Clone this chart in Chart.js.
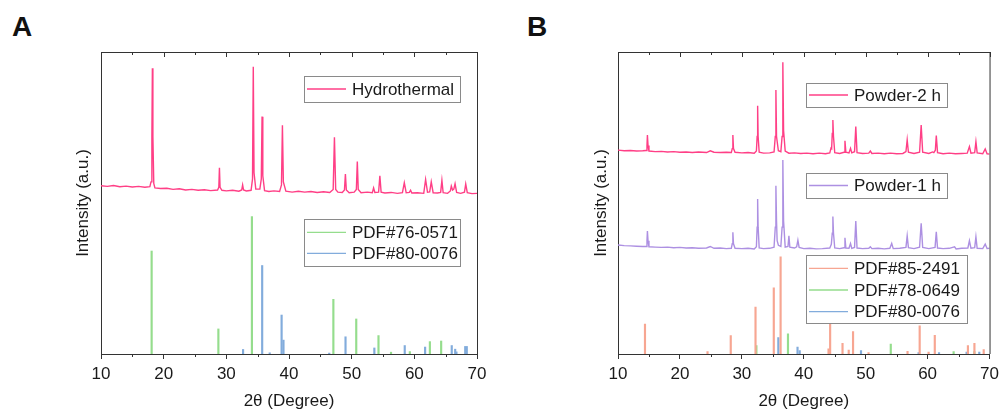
<!DOCTYPE html>
<html><head><meta charset="utf-8">
<script src="https://cdn.jsdelivr.net/npm/chart.js@4.4.1/dist/chart.umd.min.js"></script>
<style>
body{margin:0;background:#fff;width:1004px;height:410px;overflow:hidden;position:relative;font-family:"Liberation Sans",Arial,sans-serif}
.wrap{position:absolute;top:0;width:502px;height:410px}
.lab{position:absolute;font:bold 28px/1 "Liberation Sans",Arial,sans-serif;color:#111}
</style></head><body>
<div class="lab" style="left:12px;top:13px">A</div>
<div class="lab" style="left:527px;top:13px">B</div>
<div class="wrap" style="left:0"><canvas id="cA" width="502" height="410"></canvas></div>
<div class="wrap" style="left:502px"><canvas id="cB" width="502" height="410"></canvas></div>
<script>
// ---------- data ----------
const xMin = 10, xMax = 70;
const majorTicks = [10, 20, 30, 40, 50, 60, 70];
const minorTicks = [15, 25, 35, 45, 55, 65];
const xTitle = '2θ (Degree)';
const yTitle = 'Intensity (a.u.)';

// Panel A: measured pattern [2θ, intensity]
const hydrothermal = [
[10,55.7],[11,55.5],[12,55.8],[13,55.4],[14,55.6],[15,55.3],[16,55.5],[17,55.2],[17.8,55.4],
[17.98,57],[18.12,72],[18.2,94.6],[18.28,72],[18.42,56.5],[18.6,55.0],
[19.5,54.8],[20.5,54.9],[21.5,54.5],[22.5,54.7],[23.5,54.3],[24.5,54.5],[25.5,54.2],[26.5,54.4],[27.5,54.1],[28.6,54.3],
[28.8,55.2],[28.9,61.7],[29.0,55.2],[29.3,54.2],
[30,54.0],[31,54.2],[32,53.9],[32.45,54.3],[32.6,56.0],[32.75,54.3],[33.2,54.0],[33.95,54.2],
[34.18,58],[34.3,95.1],[34.42,60],[34.7,54.6],[35.35,54.6],[35.58,58],[35.7,78.6],[35.82,59],[36.1,54.1],
[36.8,53.8],[37.6,54.0],[38.5,53.8],[38.8,56],[38.95,75.7],[39.1,57],[39.5,53.9],
[40.5,53.6],[41.5,53.9],[42.5,53.6],[43.5,53.8],[44.5,53.5],[45.5,53.7],[46.5,53.5],[47.05,54.5],[47.25,71.8],[47.45,54.5],[47.8,53.6],
[48.5,53.5],[48.85,54.3],[49.0,59.6],[49.15,54.3],[49.6,53.4],[50.4,53.6],[50.75,54.5],[50.9,63.7],[51.05,54.5],[51.5,53.4],
[52.5,53.6],[53.3,53.4],[53.5,55.0],[53.7,53.5],[54.3,53.6],[54.5,59.0],[54.7,53.6],[55.3,53.3],
[56.3,53.5],[57.3,53.2],[58.1,53.4],[58.4,56.7],[58.7,53.4],[59.2,53.5],[59.4,54.2],[59.6,53.3],
[60.5,53.4],[61.5,53.2],[61.8,57.8],[62.1,53.6],[62.45,53.7],[62.7,57.0],[63.0,53.4],[63.7,53.3],[64.2,53.5],[64.4,57.5],[64.6,53.4],
[65.3,53.2],[65.75,54.0],[65.9,55.6],[66.1,54.3],[66.3,54.6],[66.5,56.4],[66.75,53.5],[67.4,53.2],[68.0,53.6],[68.2,56.3],[68.45,53.4],[69.2,53.1],[70,53.2]
];
const pdf76_0571_pos = [18.2, 28.85, 34.2, 47.2, 50.85, 54.4, 56.4, 59.4, 62.6, 64.4];
const pdf76_0571_int = [34.1, 8.3, 45.5, 18.1, 11.6, 6.1, 0.6, 0.8, 4.1, 4.3];
const pdf80_0076A_pos = [32.55, 35.6, 36.8, 38.7, 39.0, 46.3, 48.9, 53.5, 58.35, 61.6, 65.85, 66.4, 66.6, 68.0, 68.25];
const pdf80_0076A_int = [1.5, 29.3, 0.4, 12.9, 4.6, 0.3, 5.7, 2.0, 2.8, 2.3, 2.8, 1.6, 0.7, 2.5, 2.5];

// Panel B: measured patterns [2θ, intensity]
const powder2h = [
[10,67.5],[11,67.3],[12,67.4],[13,67.2],[14,67.3],[14.55,67.4],[14.68,69],[14.75,72.5],[14.85,69],[15.0,67.2],[16,67.0],[17,67.1],[18,66.9],[19,67.0],[20,66.8],[21,66.9],[22,66.7],[23,66.9],[24.3,66.7],[24.9,67.3],[25.5,66.8],[26.5,66.7],[27.5,66.8],[28.3,66.7],[28.45,68],[28.55,72.5],[28.65,68],[28.9,66.8],[30,66.6],[31,66.7],[32,66.5],[32.35,67.2],[32.47,72],[32.55,82.2],[32.63,72],[32.8,66.8],[33.5,66.5],[34.5,66.6],[35.2,66.9],[35.4,72],[35.5,87.4],[35.6,72],[35.9,67.3],[36.3,67.0],[36.5,72],[36.62,96.6],[36.74,74],[37.0,67.2],[37.6,66.5],[38.5,66.6],[39.5,66.4],[40.5,66.5],[41.5,66.3],[42.5,66.5],[43.5,66.3],[44.2,66.6],[44.4,68.2],[44.5,68],[44.6,73],[44.7,77.5],[44.8,72],[45.0,66.7],[45.8,66.4],[46.5,66.8],[46.65,70.6],[46.8,66.8],[47.3,66.6],[47.55,68.1],[47.75,66.6],[48.2,67.0],[48.4,75.3],[48.6,66.7],[49.5,66.4],[50.5,66.5],[50.75,67.2],[51.0,66.4],[52,66.5],[53,66.3],[54,66.5],[55,66.3],[56,66.4],[56.5,67],[56.7,70.9],[56.9,66.8],[57.8,66.4],[58.7,66.8],[58.96,75.8],[59.2,66.8],[60.2,66.4],[60.8,66.9],[61.0,66.7],[61.25,67.5],[61.4,72.3],[61.6,66.7],[62.5,66.3],[63.5,66.5],[64.5,66.3],[65.5,66.4],[66.4,66.5],[66.75,68.7],[67.0,66.5],[67.6,66.7],[67.8,70.3],[68.0,66.6],[68.9,66.3],[69.3,67.9],[69.6,66.3],[70,66.2]
];
const powder1h = [
[10,36.1],[11,35.9],[12,35.8],[13,35.7],[14,35.6],[14.55,35.6],[14.68,37.5],[14.75,40.7],[14.85,37.5],[15.0,35.5],[16,35.4],[17,35.3],[18,35.4],[19,35.2],[20,35.3],[21,35.1],[22,35.2],[23,35.0],[24.3,35.1],[24.9,35.6],[25.5,35.0],[26.5,35.1],[27.5,34.9],[28.3,35.0],[28.45,36.5],[28.55,40.3],[28.65,36.5],[28.9,35.0],[30,34.9],[31,35.0],[32,34.8],[32.35,35.5],[32.47,42],[32.55,51.3],[32.63,42],[32.8,35.1],[33.5,34.9],[34.5,35.0],[35.2,35.4],[35.4,42],[35.5,55.7],[35.6,44],[35.7,37.5],[35.9,36.0],[36.3,35.6],[36.5,42],[36.62,64.2],[36.74,44],[37.0,35.4],[37.45,35.6],[37.6,39.1],[37.75,35.4],[38.5,35.1],[38.85,35.5],[39.05,37.7],[39.25,35.3],[40,34.9],[41,35.0],[42,34.8],[43,34.9],[44.2,35.1],[44.45,36.3],[44.6,40],[44.7,45.5],[44.8,40],[45.0,35.1],[45.8,34.9],[46.5,35.2],[46.65,38.5],[46.8,35.1],[47.3,35.0],[47.55,36.6],[47.75,35.0],[48.2,35.3],[48.4,44.0],[48.6,35.1],[49.5,34.9],[50.5,35.0],[50.75,35.5],[51.0,34.9],[52,35.0],[53,34.8],[53.9,35.0],[54.2,36.6],[54.45,34.9],[55.5,35.0],[56.5,35.3],[56.7,39.1],[56.9,35.2],[57.8,34.9],[58.7,35.4],[58.96,43.3],[59.2,35.3],[60.2,34.9],[61.2,35.3],[61.4,40.5],[61.6,35.1],[62.5,34.9],[63.5,35.0],[64.35,35.5],[64.6,34.8],[65.5,35.0],[66.5,35.1],[66.75,37.5],[67.0,35.0],[67.6,35.2],[67.8,38.8],[68.0,35.0],[68.9,34.9],[69.3,36.4],[69.6,34.9],[70,35.0]
];
const pdf85_2491_pos = [14.6, 24.7, 28.45, 32.45, 35.4, 36.5, 44.24, 44.5, 46.5, 47.5, 48.2, 50.7, 57.0, 58.96, 60.4, 61.4, 66.75, 67.8, 69.3];
const pdf85_2491_int = [9.9, 0.8, 6.1, 15.5, 21.9, 32.2, 1.7, 9.9, 3.5, 1.3, 7.4, 0.5, 0.9, 9.3, 0.6, 6.2, 2.8, 3.5, 1.5];
const pdf78_0649_pos = [32.35, 37.45, 54.05, 64.2, 67.55];
const pdf78_0649_int = [2.8, 6.7, 3.3, 0.8, 0.8];
const pdf80_0076B_pos = [35.65, 38.75, 39.1, 49.0, 58.3, 61.6, 66.05, 68.1];
const pdf80_0076B_int = [5.4, 2.3, 1.1, 1.1, 0.5, 0.5, 0.6, 0.6];

// ---------- helpers ----------
const pts = arr => arr.map(p => ({x: p[0], y: p[1]}));
const sticks = (pos, val) => pos.map((p, i) => ({x: p, y: val[i]}));

const FONT = '"Liberation Sans", Arial, sans-serif';
Chart.defaults.font.family = FONT;
Chart.defaults.font.size = 17;
Chart.defaults.color = '#1a1a1a';

const C = {pink: '#ff3f86', purple: '#ad90e2', green: '#95dd8d', blue: '#82acdc', orange: '#f7a692', axis: '#333'};

const framePlugin = {
  id: 'frame',
  afterDraw(chart) {
    const {ctx, chartArea: a, scales: {x}} = chart;
    ctx.save();
    ctx.strokeStyle = C.axis; ctx.lineWidth = 1;
    ctx.beginPath();
    ctx.moveTo(a.left, a.top + 0.5); ctx.lineTo(a.right + 0.5, a.top + 0.5); ctx.lineTo(a.right + 0.5, a.bottom);
    majorTicks.forEach(v => { const px = Math.round(x.getPixelForValue(v)) + 0.5; ctx.moveTo(px, a.top); ctx.lineTo(px, a.top + 5); });
    minorTicks.forEach(v => {
      const px = Math.round(x.getPixelForValue(v)) + 0.5;
      ctx.moveTo(px, a.top); ctx.lineTo(px, a.top + 3);
      ctx.moveTo(px, a.bottom); ctx.lineTo(px, a.bottom + 3);
    });
    ctx.stroke();
    ctx.restore();
  }
};

const boxLegendPlugin = {
  id: 'boxLegend',
  afterDraw(chart, args, opts) {
    const ctx = chart.ctx;
    (opts.boxes || []).forEach(b => {
      ctx.save();
      ctx.fillStyle = '#fff'; ctx.fillRect(b.x, b.y, b.w, b.h);
      ctx.strokeStyle = '#8a8a8a'; ctx.lineWidth = 1; ctx.strokeRect(b.x + 0.5, b.y + 0.5, b.w, b.h);
      b.rows.forEach((r, i) => {
        const ds = chart.data.datasets[r];
        const cy = b.y + b.first + i * b.step;
        ctx.strokeStyle = ds.borderColor || ds.backgroundColor; ctx.lineWidth = 1.3;
        ctx.beginPath(); ctx.moveTo(b.x + 3, cy); ctx.lineTo(b.x + 42, cy); ctx.stroke();
        ctx.fillStyle = '#1a1a1a'; ctx.font = '17px ' + FONT; ctx.textBaseline = 'middle'; ctx.textAlign = 'left';
        ctx.fillText(ds.label, b.x + 48, cy + 1);
      });
      ctx.restore();
    });
  }
};

function lineDs(label, data, color) {
  return {type: 'line', label, data: pts(data), borderColor: color, borderWidth: 1.4, pointRadius: 0, tension: 0, fill: false};
}
function stickDs(label, pos, val, color) {
  return {type: 'bar', label, data: sticks(pos, val), backgroundColor: color, borderColor: color, borderWidth: 0, barThickness: 1.5};
}

function makeOptions(padLeft, padRight, yWidth, boxes) {
  return {
    responsive: false, animation: false,
    layout: {padding: {left: padLeft, right: padRight, top: 52, bottom: 0}},
    plugins: {legend: {display: false}, tooltip: {enabled: false}, boxLegend: {boxes}},
    scales: {
      x: {
        type: 'linear', min: xMin, max: xMax, offset: false,
        afterBuildTicks: s => { s.ticks = majorTicks.map(v => ({value: v})); },
        afterFit: s => { s.height = 56; },
        ticks: {padding: 5, maxRotation: 0, font: {size: 17}, color: '#1a1a1a'},
        grid: {display: true, drawOnChartArea: false, drawTicks: true, tickLength: 5, color: C.axis, offset: false},
        border: {display: true, color: C.axis, width: 1},
        title: {display: true, text: xTitle, font: {size: 17, lineHeight: 1.0}, padding: {top: 4, bottom: 0}, color: '#1a1a1a'}
      },
      y: {
        min: 0, max: 100,
        afterFit: s => { s.width = yWidth; },
        ticks: {display: false},
        grid: {display: false},
        border: {display: true, color: C.axis, width: 1},
        title: {display: true, text: yTitle, font: {size: 17}, padding: {top: 4, bottom: 4}, color: '#1a1a1a'}
      }
    }
  };
}

new Chart(document.getElementById('cA'), {
  type: 'line',
  data: {datasets: [
    lineDs('Hydrothermal', hydrothermal, C.pink),
    stickDs('PDF#76-0571', pdf76_0571_pos, pdf76_0571_int, C.green),
    stickDs('PDF#80-0076', pdf80_0076A_pos, pdf80_0076A_int, C.blue)
  ]},
  options: makeOptions(69, 25, 32, [
    {x: 304, y: 76, w: 156, h: 26, first: 13, step: 21, rows: [0]},
    {x: 304, y: 219, w: 156, h: 47, first: 13.3, step: 21, rows: [1, 2]}
  ]),
  plugins: [framePlugin, boxLegendPlugin]
});

new Chart(document.getElementById('cB'), {
  type: 'line',
  data: {datasets: [
    lineDs('Powder-2 h', powder2h, C.pink),
    lineDs('Powder-1 h', powder1h, C.purple),
    stickDs('PDF#85-2491', pdf85_2491_pos, pdf85_2491_int, C.orange),
    stickDs('PDF#78-0649', pdf78_0649_pos, pdf78_0649_int, C.green),
    stickDs('PDF#80-0076', pdf80_0076B_pos, pdf80_0076B_int, C.blue)
  ]},
  options: makeOptions(85, 11, 31, [
    {x: 304, y: 83, w: 141, h: 24, first: 12, step: 21, rows: [0]},
    {x: 304, y: 173, w: 141, h: 25, first: 12.5, step: 21, rows: [1]},
    {x: 304, y: 255, w: 161, h: 68, first: 13.3, step: 21.7, rows: [2, 3, 4]}
  ]),
  plugins: [framePlugin, boxLegendPlugin]
});
</script>
</body></html>
